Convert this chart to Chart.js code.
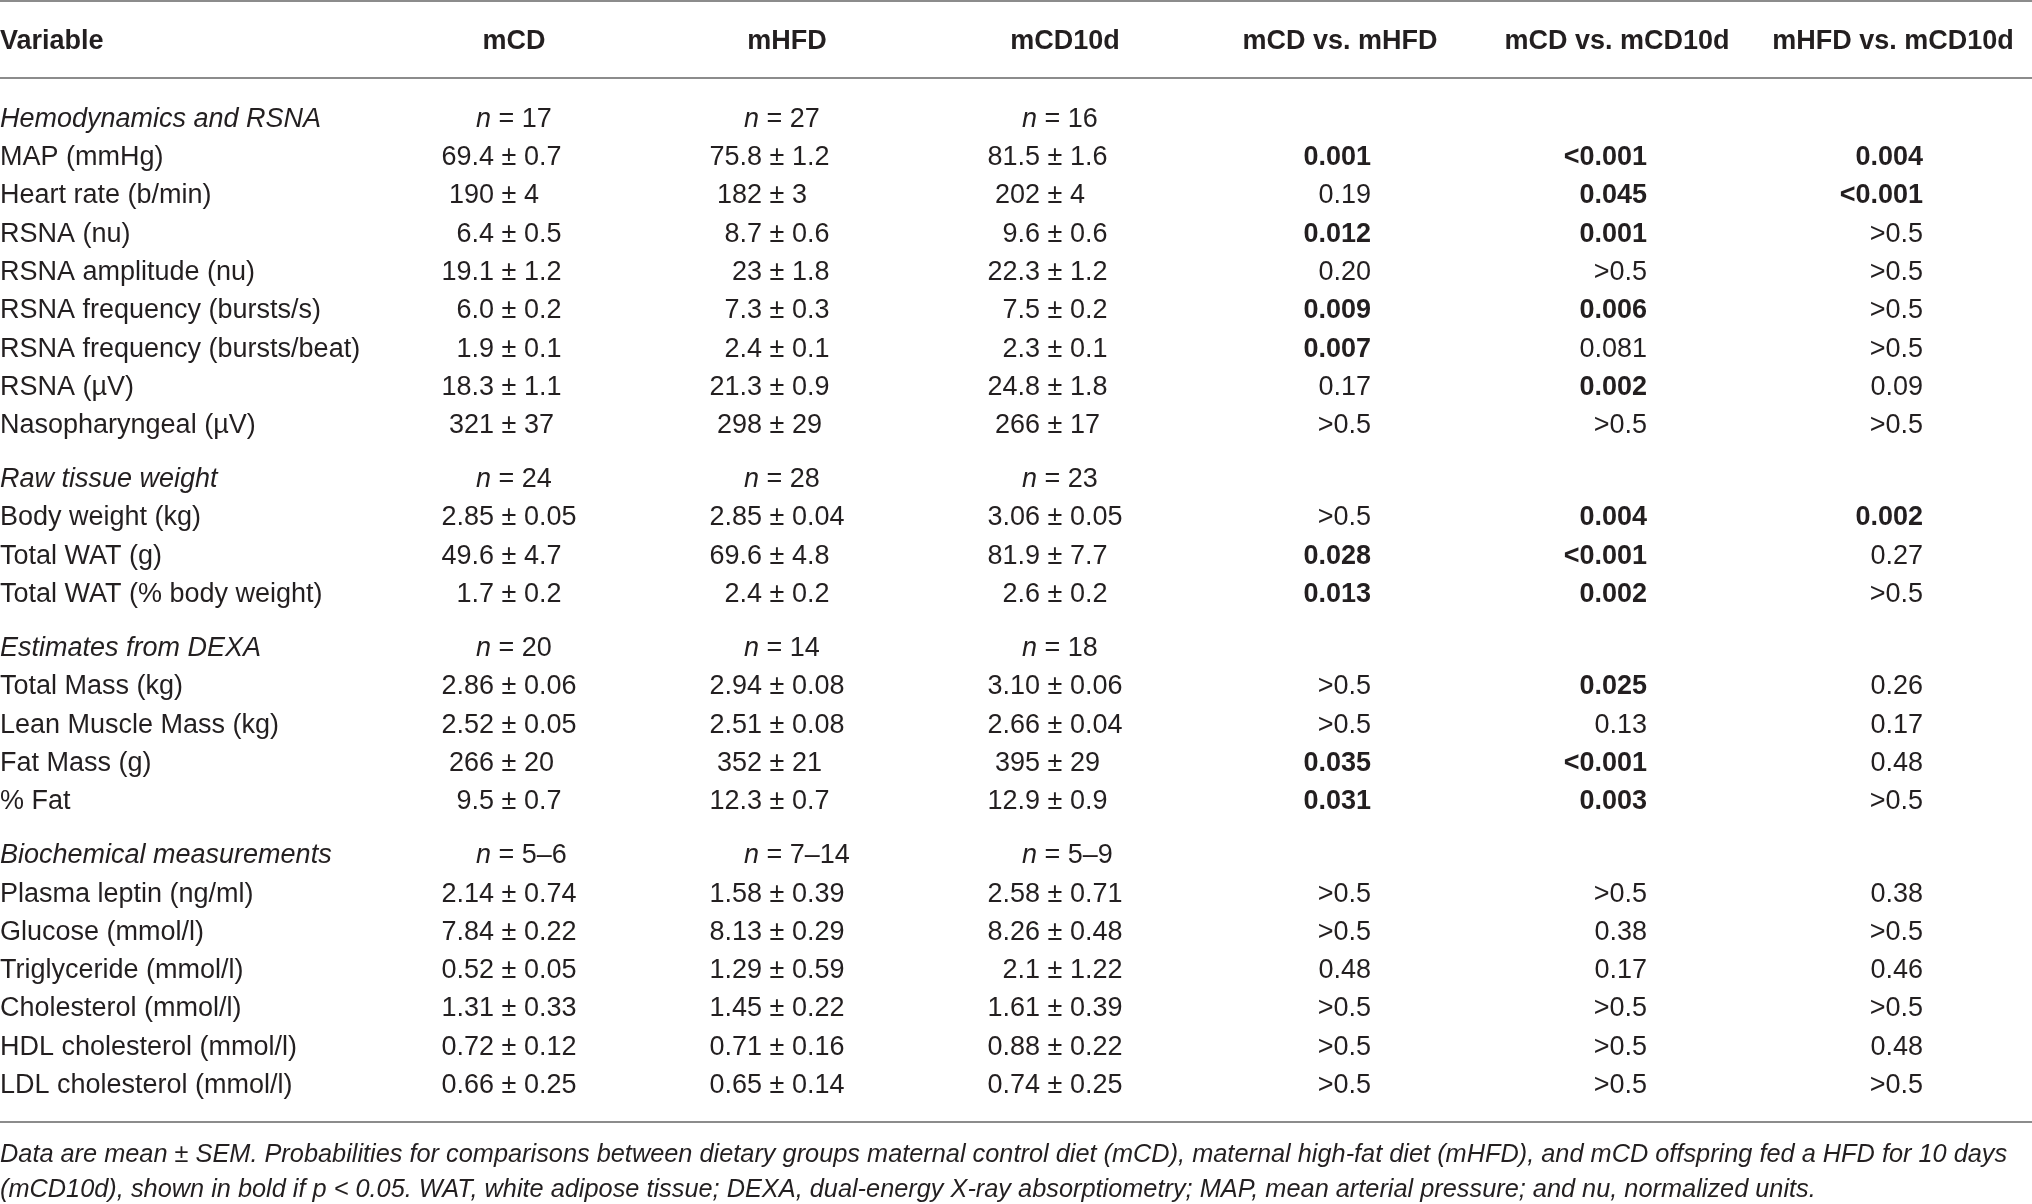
<!DOCTYPE html>
<html>
<head>
<meta charset="utf-8">
<title>Table</title>
<script src="https://cdn.jsdelivr.net/npm/chart.js@4.4.1/dist/chart.umd.min.js"></script>
<style>
  html, body { margin: 0; padding: 0; background: #fff; }
  canvas { display: block; }
</style>
</head>
<body>
<canvas id="table" width="2032" height="1204"></canvas>
<script>
// ---- data ----
const headers = ['Variable', 'mCD', 'mHFD', 'mCD10d', 'mCD vs. mHFD', 'mCD vs. mCD10d', 'mHFD vs. mCD10d'];

const sectionTitles = ['Hemodynamics and RSNA', 'Raw tissue weight', 'Estimates from DEXA', 'Biochemical measurements'];
const sectionSizes = [8, 3, 4, 6];
const nMCD = ['17', '24', '20', '5–6'];
const nMHFD = ['27', '28', '14', '7–14'];
const nMCD10d = ['16', '23', '18', '5–9'];

const variables = [
  'MAP (mmHg)', 'Heart rate (b/min)', 'RSNA (nu)', 'RSNA amplitude (nu)',
  'RSNA frequency (bursts/s)', 'RSNA frequency (bursts/beat)', 'RSNA (µV)', 'Nasopharyngeal (µV)',
  'Body weight (kg)', 'Total WAT (g)', 'Total WAT (% body weight)',
  'Total Mass (kg)', 'Lean Muscle Mass (kg)', 'Fat Mass (g)', '% Fat',
  'Plasma leptin (ng/ml)', 'Glucose (mmol/l)', 'Triglyceride (mmol/l)', 'Cholesterol (mmol/l)',
  'HDL cholesterol (mmol/l)', 'LDL cholesterol (mmol/l)'
];

const valMCD = [
  '69.4 ± 0.7', '190 ± 4', '6.4 ± 0.5', '19.1 ± 1.2', '6.0 ± 0.2', '1.9 ± 0.1', '18.3 ± 1.1', '321 ± 37',
  '2.85 ± 0.05', '49.6 ± 4.7', '1.7 ± 0.2',
  '2.86 ± 0.06', '2.52 ± 0.05', '266 ± 20', '9.5 ± 0.7',
  '2.14 ± 0.74', '7.84 ± 0.22', '0.52 ± 0.05', '1.31 ± 0.33', '0.72 ± 0.12', '0.66 ± 0.25'
];
const valMHFD = [
  '75.8 ± 1.2', '182 ± 3', '8.7 ± 0.6', '23 ± 1.8', '7.3 ± 0.3', '2.4 ± 0.1', '21.3 ± 0.9', '298 ± 29',
  '2.85 ± 0.04', '69.6 ± 4.8', '2.4 ± 0.2',
  '2.94 ± 0.08', '2.51 ± 0.08', '352 ± 21', '12.3 ± 0.7',
  '1.58 ± 0.39', '8.13 ± 0.29', '1.29 ± 0.59', '1.45 ± 0.22', '0.71 ± 0.16', '0.65 ± 0.14'
];
const valMCD10d = [
  '81.5 ± 1.6', '202 ± 4', '9.6 ± 0.6', '22.3 ± 1.2', '7.5 ± 0.2', '2.3 ± 0.1', '24.8 ± 1.8', '266 ± 17',
  '3.06 ± 0.05', '81.9 ± 7.7', '2.6 ± 0.2',
  '3.10 ± 0.06', '2.66 ± 0.04', '395 ± 29', '12.9 ± 0.9',
  '2.58 ± 0.71', '8.26 ± 0.48', '2.1 ± 1.22', '1.61 ± 0.39', '0.88 ± 0.22', '0.74 ± 0.25'
];

const pMCDvsMHFD = [
  '0.001', '0.19', '0.012', '0.20', '0.009', '0.007', '0.17', '>0.5',
  '>0.5', '0.028', '0.013',
  '>0.5', '>0.5', '0.035', '0.031',
  '>0.5', '>0.5', '0.48', '>0.5', '>0.5', '>0.5'
];
const pMCDvsMCD10d = [
  '<0.001', '0.045', '0.001', '>0.5', '0.006', '0.081', '0.002', '>0.5',
  '0.004', '<0.001', '0.002',
  '0.025', '0.13', '<0.001', '0.003',
  '>0.5', '0.38', '0.17', '>0.5', '>0.5', '>0.5'
];
const pMHFDvsMCD10d = [
  '0.004', '<0.001', '>0.5', '>0.5', '>0.5', '>0.5', '0.09', '>0.5',
  '0.002', '0.27', '>0.5',
  '0.26', '0.17', '0.48', '>0.5',
  '0.38', '>0.5', '0.46', '>0.5', '0.48', '>0.5'
];

const footnote = [
  'Data are mean ± SEM. Probabilities for comparisons between dietary groups maternal control diet (mCD), maternal high-fat diet (mHFD), and mCD offspring fed a HFD for 10 days',
  '(mCD10d), shown in bold if p < 0.05. WAT, white adipose tissue; DEXA, dual-energy X-ray absorptiometry; MAP, mean arterial pressure; and nu, normalized units.'
];

// ---- layout (px for x, row units for y) ----
const W = 2032, H = 1204;
const rowPitch = 38.3;       // px per row
const firstBaseline = 126.7; // px, baseline of first body row
const sectionGap = 0.41;     // extra rows between sections
const headerRow = -2.02;
const topRuleRow = -3.28;
const headRuleRow = -1.27;
const bottomRuleGap = 0.76;
const footGaps = [1.81, 2.71];
const groupAnchor = [509, 777, 1055]; // x of the ± sign
const nOffset = -33;
const pAnchor = [1371, 1647, 1923];   // right edge of p values
const headerX = [0, 514, 787, 1065, 1340, 1617, 1893];
const fontSize = 27;
const family = '"Liberation Sans", Arial, Helvetica, sans-serif';
const ink = '#231f20';
const ruleColor = '#8c8c8c';
const footWidth = 2007;

// ---- build rows ----
const rows = []; // {pos, label, section, index}
let pos = 0, vi = 0;
sectionTitles.forEach((t, s) => {
  if (s > 0) pos += sectionGap;
  rows.push({ pos, label: t, section: s, index: -1 });
  pos += 1;
  for (let k = 0; k < sectionSizes[s]; k++) {
    rows.push({ pos, label: variables[vi], section: s, index: vi });
    vi++; pos += 1;
  }
});
const lastRow = rows[rows.length - 1].pos;

const groupVals = [valMCD, valMHFD, valMCD10d];
const groupN = [nMCD, nMHFD, nMCD10d];
const pVals = [pMCDvsMHFD, pMCDvsMCD10d, pMHFDvsMCD10d];

const datasets = [];
datasets.push({
  kind: 'label',
  data: rows.map(r => ({ x: 0, y: r.pos, text: r.label, italic: r.index < 0 }))
});
groupVals.forEach((vals, g) => {
  datasets.push({
    kind: 'group',
    data: rows.map(r => r.index < 0
      ? { x: groupAnchor[g] + nOffset, y: r.pos, text: groupN[g][r.section], isN: true }
      : { x: groupAnchor[g], y: r.pos, text: vals[r.index] })
  });
});
pVals.forEach((vals, p) => {
  datasets.push({
    kind: 'p',
    data: rows.filter(r => r.index >= 0).map(r => ({ x: pAnchor[p], y: r.pos, text: vals[r.index] }))
  });
});
datasets.push({
  kind: 'header',
  data: headers.map((h, i) => ({ x: headerX[i], y: headerRow, text: h }))
});
datasets.forEach(d => { d.pointRadius = 0; d.pointHoverRadius = 0; });

function isSignificant(p) {
  if (p.startsWith('<')) return true;
  if (p.startsWith('>')) return false;
  return parseFloat(p) < 0.05;
}

function font(style) {
  return `${style || ''} ${fontSize}px ${family}`.trim();
}

const tablePlugin = {
  id: 'tableText',
  afterDatasetsDraw(chart) {
    const ctx = chart.ctx;
    const ys = chart.scales.y;
    ctx.save();

    // horizontal rules
    ctx.strokeStyle = ruleColor;
    ctx.lineWidth = 2;
    [topRuleRow, headRuleRow, lastRow + bottomRuleGap].forEach(r => {
      const py = ys.getPixelForValue(r);
      ctx.beginPath();
      ctx.moveTo(0, py);
      ctx.lineTo(W, py);
      ctx.stroke();
    });

    ctx.fillStyle = ink;
    ctx.textBaseline = 'alphabetic';

    chart.data.datasets.forEach((ds, di) => {
      const meta = chart.getDatasetMeta(di);
      meta.data.forEach((pt, i) => {
        const cell = ds.data[i];
        const px = pt.x, py = pt.y;
        if (ds.kind === 'label') {
          ctx.font = font(cell.italic ? 'italic' : '');
          ctx.textAlign = 'left';
          ctx.fillText(cell.text, px, py);
        } else if (ds.kind === 'header') {
          ctx.font = font('bold');
          ctx.textAlign = i === 0 ? 'left' : 'center';
          ctx.fillText(cell.text, px, py);
        } else if (ds.kind === 'group') {
          ctx.textAlign = 'left';
          if (cell.isN) {
            ctx.font = font('italic');
            ctx.fillText('n', px, py);
            const w = ctx.measureText('n').width;
            ctx.font = font('');
            ctx.fillText(' = ' + cell.text, px + w, py);
          } else {
            ctx.font = font('');
            const left = cell.text.split('±')[0];
            const x0 = px - ctx.measureText(left).width - ctx.measureText('±').width / 2;
            ctx.fillText(cell.text, x0, py);
          }
        } else if (ds.kind === 'p') {
          ctx.font = font(isSignificant(cell.text) ? 'bold' : '');
          ctx.textAlign = 'right';
          ctx.fillText(cell.text, px, py);
        }
      });
    });

    // footnote, fitted to the table width
    ctx.font = `italic 100px ${family}`;
    const fs = 100 * footWidth / ctx.measureText(footnote[0]).width;
    ctx.font = `italic ${fs.toFixed(2)}px ${family}`;
    ctx.textAlign = 'left';
    footnote.forEach((line, k) => {
      ctx.fillText(line, 0, ys.getPixelForValue(lastRow + footGaps[k]));
    });

    ctx.restore();
  }
};

const yMin = -firstBaseline / rowPitch;
const yMax = yMin + H / rowPitch;

new Chart(document.getElementById('table'), {
  type: 'scatter',
  data: { datasets },
  options: {
    responsive: false,
    devicePixelRatio: 1,
    animation: false,
    events: [],
    layout: { padding: 0 },
    plugins: { legend: { display: false }, tooltip: { enabled: false } },
    scales: {
      x: { type: 'linear', min: 0, max: W, display: false },
      y: { type: 'linear', min: yMin, max: yMax, reverse: true, display: false }
    }
  },
  plugins: [tablePlugin]
});
</script>
</body>
</html>
